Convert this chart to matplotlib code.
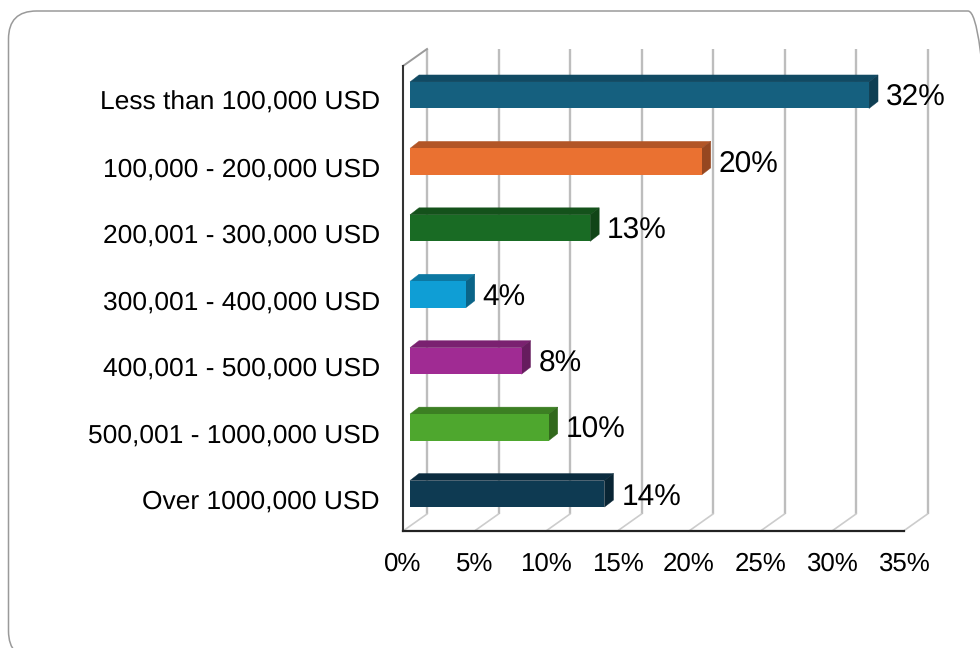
import matplotlib
matplotlib.use("Agg")
import matplotlib.pyplot as plt
from matplotlib.patches import Polygon, FancyBboxPatch
from matplotlib.transforms import IdentityTransform, ScaledTranslation

categories = ["Less than 100,000 USD", "100,000 - 200,000 USD", "200,001 - 300,000 USD",
              "300,001 - 400,000 USD", "400,001 - 500,000 USD", "500,001 - 1000,000 USD",
              "Over 1000,000 USD"]
values = [32.1, 20.4, 12.6, 3.9, 7.8, 9.7, 13.6]
value_labels = ["32%", "20%", "13%", "4%", "8%", "10%", "14%"]
front_colors = ["#15607f", "#ea7131", "#196b24", "#0f9ed5", "#a02b93", "#4ea72e", "#0e3a52"]
top_colors = ["#114a63", "#b25526", "#14521b", "#0c78a2", "#7a2170", "#3c7f23", "#0b2c3f"]
side_colors = ["#0e3e53", "#964720", "#114517", "#0a6488", "#661c5e", "#32691d", "#092534"]
x_ticks = [0, 5, 10, 15, 20, 25, 30, 35]

plt.rcParams["font.family"] = ["Liberation Sans", "DejaVu Sans"]
plt.rcParams["text.hinting"] = "none"
plt.rcParams["text.hinting_factor"] = 8

W, H = 980, 648
fig = plt.figure(figsize=(W / 100, H / 100), dpi=100, facecolor="white")

L, R, T, B = 403, 903.5, 66, 531
ax = fig.add_axes([L / W, 1 - B / H, (R - L) / W, (B - T) / H])
ax.set_xlim(0, 35)
ax.set_ylim(6.5, -0.5)
ax.patch.set_alpha(0)
for s in ax.spines.values():
    s.set_visible(False)

px_x = 35 / (R - L)
px_y = 7 / (B - T)
depth_x, depth_y = 24 * px_x, 17 * px_y
bar_dx, bar_dy = 7 * px_x, 4 * px_y
cap_x, cap_y = 9 * px_x, 7 * px_y
bar_h = 26.5 * px_y

# panel frame (runs off the right and bottom of the picture)
fig.add_artist(FancyBboxPatch((8.5, H - 659), 996 - 8.5, 659 - 11,
                              boxstyle="round,pad=0,rounding_size=28",
                              transform=IdentityTransform(), fc="none", ec="#9a9a9a", lw=1.1))

# walls and gridlines
for t in x_ticks:
    ax.plot([t + depth_x, t + depth_x], [6.5 - depth_y, -0.5 - depth_y], color="#bdbdbd", lw=1.7,
            clip_on=False, zorder=1, solid_capstyle="butt")
    ax.plot([t, t + depth_x], [6.5, 6.5 - depth_y], color="#cccccc", lw=1.2, clip_on=False, zorder=1)
ax.plot([0, depth_x], [-0.5, -0.5 - depth_y], color="#9a9a9a", lw=1.4, clip_on=False, zorder=2)
ax.plot([0, 0], [-0.5, 6.5], color="#333333", lw=1.5, clip_on=False, zorder=3)
ax.plot([0, 35], [6.5, 6.5], color="#222222", lw=1.6, clip_on=False, zorder=3)

# bars
for i, v in enumerate(values):
    x0, x1 = bar_dx, bar_dx + v
    yc = i - bar_dy
    y0, y1 = yc - bar_h / 2, yc + bar_h / 2
    ax.add_patch(Polygon([(x0, y0), (x0 + cap_x, y0 - cap_y), (x1 + cap_x, y0 - cap_y), (x1, y0)],
                         fc=top_colors[i], ec=top_colors[i], lw=0.3, zorder=5))
    ax.add_patch(Polygon([(x1, y0), (x1 + cap_x, y0 - cap_y), (x1 + cap_x, y1 - cap_y), (x1, y1)],
                         fc=side_colors[i], ec=side_colors[i], lw=0.3, zorder=5))
    ax.barh(yc, v, height=bar_h, left=x0, color=front_colors[i], zorder=6)
    ax.text(x1 + cap_x + 8 * px_x, yc + 3 * px_y, value_labels[i], fontsize=21.5, color="#000000",
            va="center", ha="left", zorder=7)

ax.set_xticks(x_ticks)
ax.set_xticklabels([f"{t}%" for t in x_ticks], fontsize=18.6, color="#000000")
ax.set_yticks(range(len(categories)))
ax.set_yticklabels(categories, fontsize=19, color="#000000")
ax.tick_params(axis="both", length=0)
ax.tick_params(axis="x", pad=15)
ax.tick_params(axis="y", pad=16.7)
nudge = ScaledTranslation(0, -1.5 / 100, fig.dpi_scale_trans)
for lab in ax.get_yticklabels():
    lab.set_transform(lab.get_transform() + nudge)

fig.savefig("out.png", dpi=100)
